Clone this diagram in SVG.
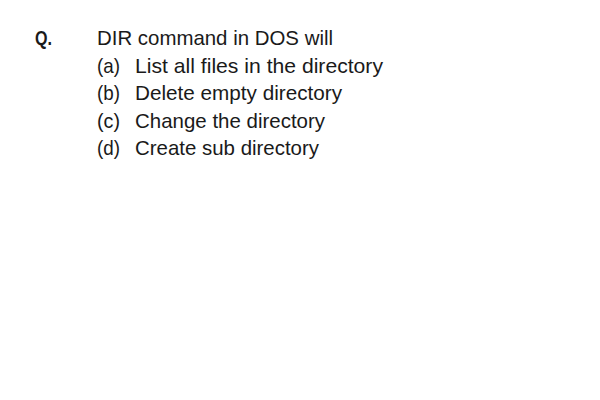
<svg xmlns="http://www.w3.org/2000/svg" width="600" height="400" viewBox="0 0 600 400">
<style>
text{font-family:"Liberation Sans",Arial,sans-serif;font-size:21px;fill:#1a1a1a}
.q{font-weight:bold}
</style>
<rect width="600" height="400" fill="#fff"/>
<g id="question">
<text class="q" x="35" y="45" textLength="17" lengthAdjust="spacingAndGlyphs">Q.</text>
<text x="97" y="45" textLength="236" lengthAdjust="spacingAndGlyphs">DIR command in DOS will</text>
</g>
<g id="options">
<text x="97" y="73" textLength="23" lengthAdjust="spacingAndGlyphs">(a)</text>
<text x="135" y="73" textLength="248" lengthAdjust="spacingAndGlyphs">List all files in the directory</text>
<text x="97" y="100" textLength="23" lengthAdjust="spacingAndGlyphs">(b)</text>
<text x="135" y="100" textLength="207" lengthAdjust="spacingAndGlyphs">Delete empty directory</text>
<text x="97" y="128" textLength="23" lengthAdjust="spacingAndGlyphs">(c)</text>
<text x="135" y="128" textLength="190" lengthAdjust="spacingAndGlyphs">Change the directory</text>
<text x="97" y="155" textLength="23" lengthAdjust="spacingAndGlyphs">(d)</text>
<text x="135" y="155" textLength="184" lengthAdjust="spacingAndGlyphs">Create sub directory</text>
</g>
</svg>
